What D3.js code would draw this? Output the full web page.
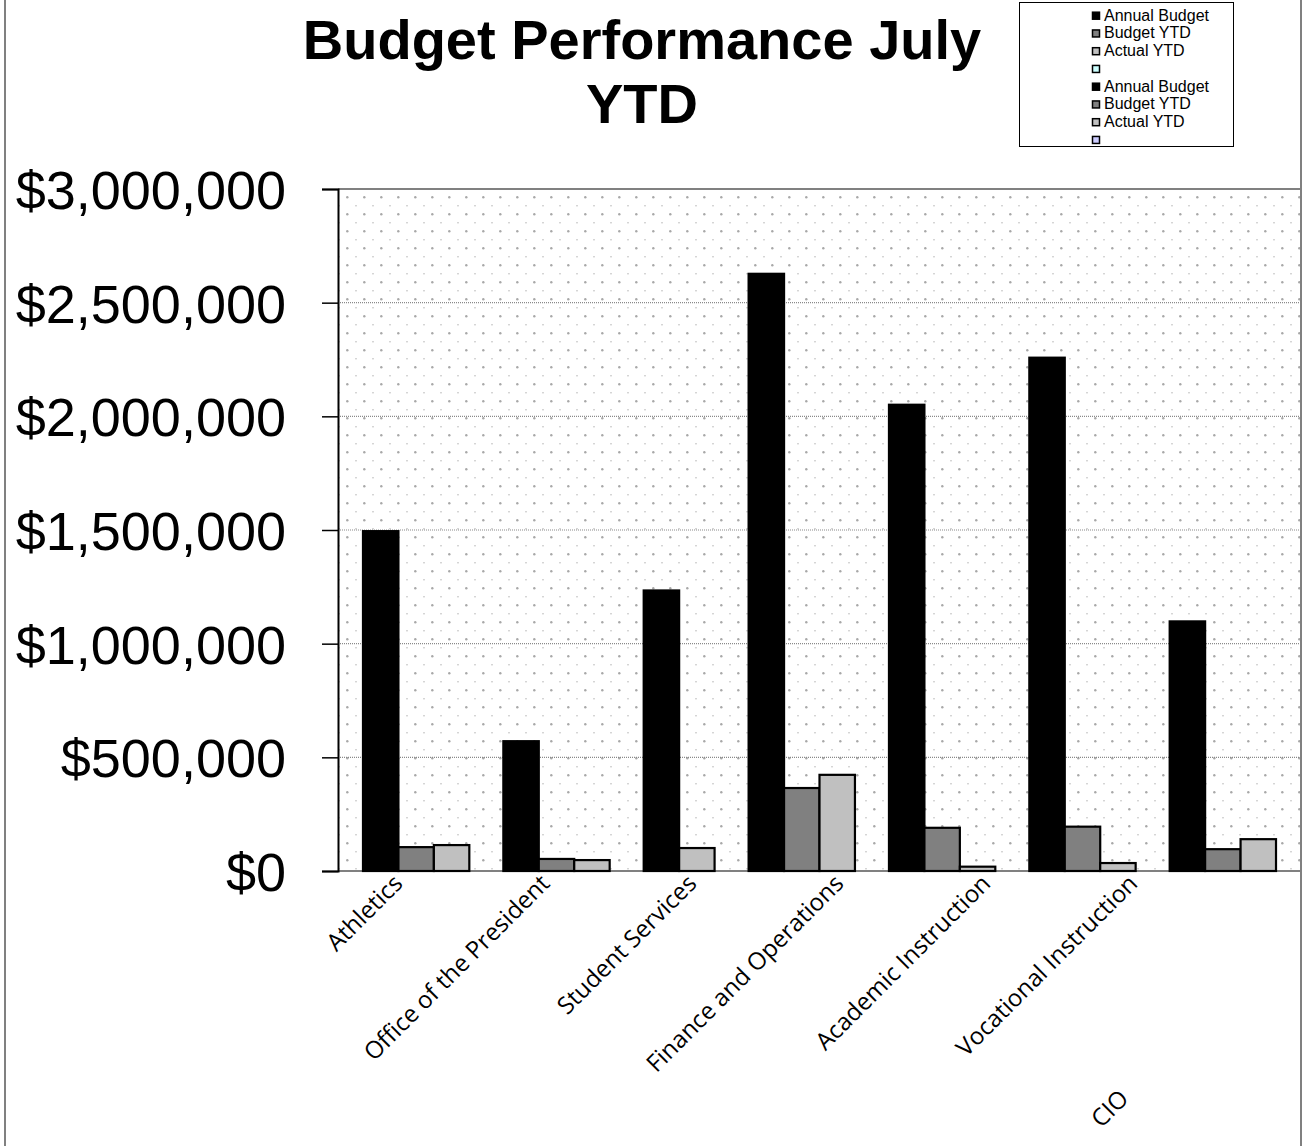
<!DOCTYPE html>
<html>
<head>
<meta charset="utf-8">
<script src="https://cdn.jsdelivr.net/npm/d3@7"></script>
<style>
  body { margin: 0; background: #ffffff; }
  svg { display: block; }
</style>
</head>
<body>
<div id="chart"></div>
<script>
const categories = ['Athletics', 'Office of the President', 'Student Services',
                    'Finance and Operations', 'Academic Instruction',
                    'Vocational Instruction', 'CIO'];
const annualBudget = [1495000, 571000, 1234000, 2627000, 2051000, 2258000, 1098000];
const budgetYTD = [105000, 53000, null, 365000, 190000, 195000, 96000];
const actualYTD = [114000, 48000, 101000, 423000, 19000, 35000, 140000];
const seriesNames = ['Annual Budget', 'Budget YTD', 'Actual YTD'];
const legendLabels = ['Annual Budget', 'Budget YTD', 'Actual YTD', '',
                      'Annual Budget', 'Budget YTD', 'Actual YTD', ''];
const yTicks = [0, 500000, 1000000, 1500000, 2000000, 2500000, 3000000];
const titleLines = ['Budget Performance July', 'YTD'];

const width = 1307;
const height = 1146;
const plot_left = 338, plot_right = 1301, plot_top = 189, plot_bottom = 871;

const series_fill = ['#000000', '#808080', '#c0c0c0'];
const legend_fill = ['#000000', '#808080', '#c0c0c0', '#ccffff',
                     '#000000', '#808080', '#c0c0c0', '#ccccff'];

var svg = d3.select('#chart')
            .append('svg')
            .attr('width', width)
            .attr('height', height);

// background dot pattern of the plot area
var defs = svg.append('defs');
var pat = defs.append('pattern')
              .attr('id', 'dots')
              .attr('patternUnits', 'userSpaceOnUse')
              .attr('x', plot_left)
              .attr('y', plot_top - 1)
              .attr('width', 17)
              .attr('height', 17);
pat.append('rect').attr('width', 17).attr('height', 17).attr('fill', '#ffffff');
pat.append('circle').attr('cx', 9.3).attr('cy', 9.3).attr('r', 1.2).attr('fill', '#a8a8a8');
pat.append('rect').attr('x', 0).attr('y', 0.3).attr('width', 2).attr('height', 1).attr('fill', '#c4c4c4');

// outer chart border
svg.append('rect')
   .attr('x', 5).attr('y', -3)
   .attr('width', plot_right - 5).attr('height', height + 6)
   .attr('fill', 'none')
   .attr('stroke', '#808080')
   .attr('stroke-width', 2);

svg.append('rect')
   .attr('x', plot_left).attr('y', plot_top)
   .attr('width', plot_right - plot_left).attr('height', plot_bottom - plot_top)
   .attr('fill', 'url(#dots)');

var yScale = d3.scaleLinear()
               .domain([0, 3000000])
               .range([plot_bottom, plot_top]);

// gridlines
svg.append('g')
   .selectAll('line')
   .data(yTicks.filter(function(d){ return d > 0 && d < 3000000; }))
   .enter()
   .append('line')
   .attr('x1', plot_left).attr('x2', plot_right)
   .attr('y1', function(d){ return yScale(d); })
   .attr('y2', function(d){ return yScale(d); })
   .attr('stroke', '#8a8a8a')
   .attr('stroke-width', 1.2)
   .attr('stroke-dasharray', '1,1');

// plot frame: grey top / right / bottom
svg.append('path')
   .attr('d', 'M' + plot_left + ',' + plot_top + 'H' + plot_right + 'V' + plot_bottom + 'H' + plot_left)
   .attr('fill', 'none')
   .attr('stroke', '#808080')
   .attr('stroke-width', 2);

// bar layout: bars with no value are skipped, so a group shrinks
const gap_units = 0.96, margin_units = 0.705;
var bars = [];
var pos = margin_units;
var values = [annualBudget, budgetYTD, actualYTD];
categories.forEach(function(c, i){
    values.forEach(function(vals, s){
        if(vals[i] != null){
            bars.push({cat: c, s: s, v: vals[i], u: pos});
            pos += 1;
        }
    });
    if(i < categories.length - 1) pos += gap_units;
});
pos += margin_units;

var xScale = d3.scaleLinear()
               .domain([0, pos])
               .range([plot_left, plot_right]);
var bar_w = xScale(1) - xScale(0);

svg.append('g')
   .selectAll('.bar')
   .data(bars)
   .enter()
   .append('rect')
   .attr('class', 'bar')
   .attr('x', function(d){ return xScale(d.u); })
   .attr('y', function(d){ return yScale(d.v); })
   .attr('width', bar_w)
   .attr('height', function(d){ return yScale(0) - yScale(d.v); })
   .attr('fill', function(d){ return series_fill[d.s]; })
   .attr('stroke', '#000000')
   .attr('stroke-width', 2.2);

// y axis
var yAxis = d3.axisLeft(yScale)
              .tickValues(yTicks)
              .tickSize(16)
              .tickPadding(36)
              .tickFormat(function(d){ return '$' + d3.format(',')(d); });
var gy = svg.append('g')
            .attr('transform', 'translate(' + plot_left + ',0)')
            .call(yAxis);
gy.select('.domain').attr('stroke', '#000000').attr('stroke-width', 2);
gy.selectAll('.tick line').attr('stroke', '#000000').attr('stroke-width', 1.5);
gy.selectAll('.tick text')
  .attr('font-family', '"Liberation Sans", Arial, sans-serif')
  .attr('font-size', 54)
  .attr('fill', '#000000')
  .attr('dy', '0.36em');

// category labels, rotated; the last one is pushed to a second row
var labelX = d3.scaleLinear().domain([0, 5]).range([404, 1139]);
svg.append('g')
   .selectAll('text')
   .data(categories)
   .enter()
   .append('text')
   .attr('transform', function(d, i){
       var x = labelX(i), y = 885;
       if(i > 5){ x = labelX(i) - 156; y = 1100; }
       return 'translate(' + x + ',' + y + ') rotate(-45)';
   })
   .attr('text-anchor', 'end')
   .attr('font-family', '"Open Sans", sans-serif')
   .attr('font-size', 24)
   .attr('fill', '#000000')
   .text(function(d){ return d; });

// title
svg.append('g')
   .selectAll('text')
   .data(titleLines)
   .enter()
   .append('text')
   .attr('x', 642)
   .attr('y', function(d, i){ return 59 + i * 64; })
   .attr('text-anchor', 'middle')
   .attr('font-family', '"Liberation Sans", Arial, sans-serif')
   .attr('font-weight', 'bold')
   .attr('font-size', 56)
   .text(function(d){ return d; });

// legend
var legend = svg.append('g');
legend.append('rect')
      .attr('x', 1019.5).attr('y', 2.5)
      .attr('width', 214).attr('height', 144)
      .attr('fill', '#ffffff')
      .attr('stroke', '#000000')
      .attr('stroke-width', 1);
var items = legend.selectAll('.item')
                  .data(legendLabels)
                  .enter()
                  .append('g')
                  .attr('class', 'item')
                  .attr('transform', function(d, i){ return 'translate(0,' + (15.7 + i * 17.75) + ')'; });
items.append('rect')
     .attr('x', 1092.5).attr('y', -3.5)
     .attr('width', 7).attr('height', 7)
     .attr('fill', function(d, i){ return legend_fill[i]; })
     .attr('stroke', '#000000')
     .attr('stroke-width', 1.5);
items.append('text')
     .attr('x', 1104)
     .attr('y', 5)
     .attr('font-family', '"Liberation Sans", Arial, sans-serif')
     .attr('font-size', 16)
     .text(function(d){ return d; });
</script>
</body>
</html>
